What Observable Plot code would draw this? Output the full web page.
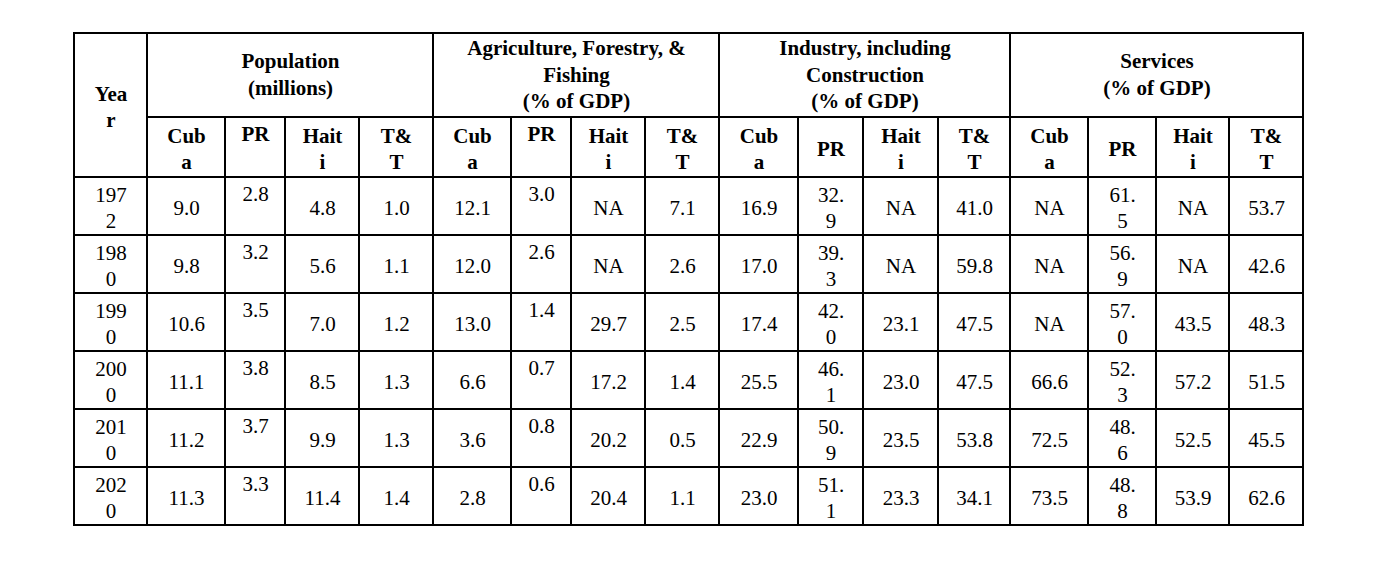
<!DOCTYPE html>
<html><head><meta charset="utf-8">
<script src="https://cdn.jsdelivr.net/npm/d3@7"></script>
<script src="https://cdn.jsdelivr.net/npm/@observablehq/plot@0.6"></script>
<style>html,body{margin:0;background:#fff}</style>
</head><body><div id="chart"></div>
<script>
// ---- data ----
const years = [1972, 1980, 1990, 2000, 2010, 2020];
const countries = ["Cuba", "PR", "Haiti", "T&T"];
const groupTitles = ["Population\n(millions)", "Agriculture, Forestry, & Fishing\n(% of GDP)", "Industry, including Construction\n(% of GDP)", "Services\n(% of GDP)"];
const yearTitle = "Year";

const popCuba  = [9.0, 9.8, 10.6, 11.1, 11.2, 11.3];
const popPR    = [2.8, 3.2, 3.5, 3.8, 3.7, 3.3];
const popHaiti = [4.8, 5.6, 7.0, 8.5, 9.9, 11.4];
const popTT    = [1.0, 1.1, 1.2, 1.3, 1.3, 1.4];

const agCuba  = [12.1, 12.0, 13.0, 6.6, 3.6, 2.8];
const agPR    = [3.0, 2.6, 1.4, 0.7, 0.8, 0.6];
const agHaiti = [null, null, 29.7, 17.2, 20.2, 20.4];
const agTT    = [7.1, 2.6, 2.5, 1.4, 0.5, 1.1];

const indCuba  = [16.9, 17.0, 17.4, 25.5, 22.9, 23.0];
const indPR    = [32.9, 39.3, 42.0, 46.1, 50.9, 51.1];
const indHaiti = [null, null, 23.1, 23.0, 23.5, 23.3];
const indTT    = [41.0, 59.8, 47.5, 47.5, 53.8, 34.1];

const servCuba  = [null, null, null, 66.6, 72.5, 73.5];
const servPR    = [61.5, 56.9, 57.0, 52.3, 48.6, 48.8];
const servHaiti = [null, null, 43.5, 57.2, 52.5, 53.9];
const servTT    = [53.7, 42.6, 48.3, 51.5, 45.5, 62.6];

const series = [
  [popCuba, popPR, popHaiti, popTT],
  [agCuba, agPR, agHaiti, agTT],
  [indCuba, indPR, indHaiti, indTT],
  [servCuba, servPR, servHaiti, servTT]
];

// ---- layout ----
const colWidths = [73, 78, 60, 74, 74, 78, 60, 74, 74, 79, 65, 75, 72, 78, 68, 73, 74];
const textRoom  = [38, 42, 32, 42, 42, 42, 32, 42, 42, 42, 32, 42, 42, 42, 32, 42, 42];
const topAligned = new Set([2, 6]);
const rowHeights = [84, 60, 58, 58, 58, 58, 58, 58];
const FS = 21, LH = 1.25, LH_TITLE = 1.28, TITLE_SHIFT = -2.5, FONT = "Liberation Serif", TOPPAD = 5;

const xs = [0]; colWidths.forEach(w => xs.push(xs[xs.length - 1] + w));
const ys = [0]; rowHeights.forEach(h => ys.push(ys[ys.length - 1] + h));
const W = xs[xs.length - 1], H = ys[ys.length - 1];

const ctx = document.createElement("canvas").getContext("2d");
function tw(s, bold) { ctx.font = `${bold ? "bold " : ""}${FS}px "${FONT}"`; return ctx.measureText(s).width; }
function wrap(text, room, bold) {
  const out = [];
  for (const para of text.split("\n")) {
    let line = "";
    for (const word of para.split(" ")) {
      const cand = line ? line + " " + word : word;
      if (tw(cand, bold) <= room) { line = cand; continue; }
      if (line) { out.push(line); line = ""; }
      let piece = "";
      for (const ch of word) {
        if (!piece || tw(piece + ch, bold) <= room) piece += ch;
        else { out.push(piece); piece = ch; }
      }
      line = piece;
    }
    out.push(line);
  }
  return out.join("\n");
}
const fmt = v => v == null ? "NA" : v.toFixed(1);

const cells = [];
function addCell(c1, c2, r1, r2, text, kind, top) {
  const bold = kind !== "data";
  const room = c2 - c1 === 1 ? textRoom[c1] : (xs[c2] - xs[c1]) - 32;
  cells.push({x1: xs[c1], x2: xs[c2], y1: ys[r1], y2: ys[r2], label: wrap(text, room, bold), kind, top});
}
addCell(0, 1, 0, 2, yearTitle, "head", false);
groupTitles.forEach((t, g) => addCell(1 + 4 * g, 5 + 4 * g, 0, 1, t, "title", false));
for (let g = 0; g < 4; g++) countries.forEach((name, k) => {
  const c = 1 + 4 * g + k;
  addCell(c, c + 1, 1, 2, name, "head", topAligned.has(c));
});
years.forEach((yr, i) => {
  addCell(0, 1, 2 + i, 3 + i, String(yr), "data", false);
  series.forEach((grp, g) => grp.forEach((vals, k) => {
    const c = 1 + 4 * g + k;
    addCell(c, c + 1, 2 + i, 3 + i, fmt(vals[i]), "data", topAligned.has(c));
  }));
});

const textMark = (kind, top) => Plot.text(cells.filter(d => d.kind === kind && d.top === top), {
  x: d => (d.x1 + d.x2) / 2,
  y: d => top ? d.y1 + TOPPAD : (d.y1 + d.y2) / 2 + (kind === "title" ? TITLE_SHIFT : 0),
  text: "label",
  lineAnchor: top ? "top" : "middle",
  lineHeight: kind === "title" ? LH_TITLE : LH,
  fontSize: FS,
  fontFamily: FONT,
  fontWeight: kind === "data" ? "normal" : "bold",
  fill: "#000"
});

const chart = Plot.plot({
  width: 1382, height: 572,
  marginLeft: 74, marginRight: 1382 - 74 - W, marginTop: 33, marginBottom: 572 - 33 - H,
  x: {domain: [0, W]},
  y: {domain: [0, H], reverse: true},
  axis: null,
  style: {background: "#fff", fontFamily: FONT},
  marks: [
    Plot.rect(cells, {x1: "x1", x2: "x2", y1: "y1", y2: "y2", fill: "none", stroke: "#000", strokeWidth: 2}),
    textMark("title", false),
    textMark("head", false),
    textMark("head", true),
    textMark("data", false),
    textMark("data", true)
  ]
});
document.getElementById("chart").append(chart);
</script>
</body></html>
